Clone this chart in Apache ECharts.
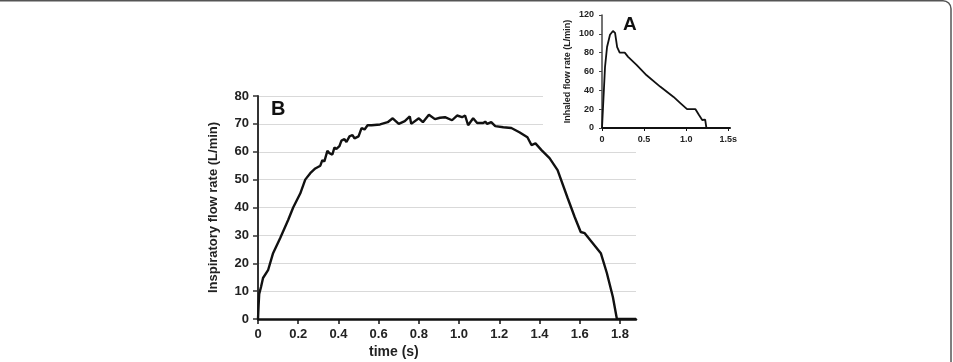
<!DOCTYPE html>
<html>
<head>
<meta charset="utf-8">
<script src="https://cdn.jsdelivr.net/npm/echarts@6/dist/echarts.min.js"></script>
<style>
  html, body { margin: 0; padding: 0; background: #fff; }
  #chart { width: 953px; height: 362px; }
</style>
</head>
<body>
<div id="chart"></div>
<script>
// B: inspiratory flow vs time (main plot)
const mainTime = [0, 0.003, 0.006, 0.015, 0.025, 0.05, 0.075, 0.11, 0.15, 0.175, 0.21, 0.235, 0.26, 0.285, 0.31,
    0.32, 0.33, 0.345, 0.355, 0.37, 0.38, 0.39, 0.405, 0.415, 0.43, 0.44, 0.455, 0.47, 0.48, 0.5, 0.515, 0.53,
    0.545, 0.565, 0.607, 0.645, 0.67, 0.685, 0.70, 0.73, 0.755, 0.762, 0.77, 0.80, 0.82, 0.85, 0.88, 0.905,
    0.93, 0.965, 0.99, 1.015, 1.03, 1.045, 1.07, 1.09, 1.12, 1.13, 1.14, 1.16, 1.18,
    1.22, 1.26, 1.30, 1.34, 1.36, 1.38, 1.41, 1.45, 1.49, 1.54, 1.575, 1.605, 1.625, 1.665, 1.705, 1.735,
    1.765, 1.785, 1.88];
const mainFlow = [0, 5, 9, 11.5, 14.7, 17.5, 23.6, 29, 35.5, 40, 45, 50, 52.3, 54, 55,
    57, 56.5, 60.3, 59.5, 59, 61.5, 61, 62, 64, 64.5, 63.5, 65.5, 66, 64.8, 65.5, 68.5, 68,
    69.5, 69.5, 69.8, 70.6, 72, 71, 70, 71, 72.7, 70, 69.5, 72, 70.6, 73.3, 71.7, 72.2,
    72.4, 71.3, 73, 72.4, 73, 69.5, 72, 70.3, 70.3, 70.8, 70, 70.6, 69.2,
    68.8, 68.5, 67, 65.2, 62.4, 63, 60.6, 57.7, 53.4, 43.4, 36.6, 31.2, 30.8, 27.2, 23.6, 16.5,
    7.9, 0, 0];
const mainXTicks = [0, 0.2, 0.4, 0.6, 0.8, 1.0, 1.2, 1.4, 1.6, 1.8];

// A: inhaled flow rate (inset)
const insetTime = [0, 0.036, 0.06, 0.095, 0.13, 0.155, 0.18, 0.21, 0.27, 0.31, 0.41, 0.53, 0.69, 0.85, 0.93,
    1.01, 1.11, 1.15, 1.19, 1.20, 1.225, 1.24, 1.52];
const insetFlow = [0, 65, 86, 99, 103, 101, 86, 80, 80, 75.6, 67, 56, 44, 33, 26.5,
    20, 20, 14, 8.5, 8.5, 9, 0, 0];
const insetXTicks = [0, 0.5, 1.0, 1.5];

const font = 'Arial, "Liberation Sans", sans-serif';
const ink = '#222';

function pairs(xs, ys) {
    return xs.map((x, i) => [x, ys[i]]);
}

var myChart = echarts.init(document.getElementById('chart'), null, { renderer: 'canvas' });

var option = {
    backgroundColor: '#fff',
    animation: false,
    grid: [
        { left: 258, top: 96, width: 378, height: 223 },
        { left: 602, top: 15, width: 128, height: 113, z: 6 }
    ],
    xAxis: [{
        type: 'value', gridIndex: 0, min: 0, max: 1.88,
        axisLine: { lineStyle: { color: '#111', width: 2.5 } },
        axisTick: { show: true, length: 5, lineStyle: { color: '#111', width: 1.5 }, customValues: mainXTicks },
        axisLabel: {
            customValues: mainXTicks, margin: 9, color: ink, fontFamily: font, fontWeight: 'bold', fontSize: 13,
            formatter: v => v === 0 ? '0' : v.toFixed(1)
        },
        splitLine: { show: false }
    }, {
        type: 'value', gridIndex: 1, min: 0, max: 1.52, z: 6,
        axisLine: { lineStyle: { color: '#111', width: 2 } },
        axisTick: { show: true, length: 3, lineStyle: { color: '#111' }, customValues: insetXTicks },
        axisLabel: {
            customValues: insetXTicks, margin: 7, color: ink, fontFamily: font, fontWeight: 'bold', fontSize: 9,
            formatter: v => v === 0 ? '0' : (v === 1.5 ? '1.5s' : v.toFixed(1))
        },
        splitLine: { show: false }
    }],
    yAxis: [{
        type: 'value', gridIndex: 0, min: 0, max: 80, interval: 10,
        name: 'Inspiratory flow rate (L/min)', nameLocation: 'middle', nameGap: 38,
        nameTextStyle: { color: ink, fontFamily: font, fontWeight: 'bold', fontSize: 13 },
        axisLine: { show: true, lineStyle: { color: '#333', width: 2 } },
        axisTick: { show: true, length: 5, lineStyle: { color: '#333', width: 1.5 } },
        axisLabel: { margin: 9, color: ink, fontFamily: font, fontWeight: 'bold', fontSize: 13 },
        splitLine: { show: true, lineStyle: { color: '#d9d9d9', width: 1 } }
    }, {
        type: 'value', gridIndex: 1, min: 0, max: 120, interval: 20, z: 6,
        name: 'Inhaled flow rate (L/min)', nameLocation: 'middle', nameGap: 30,
        nameTextStyle: { color: ink, fontFamily: font, fontWeight: 'bold', fontSize: 9 },
        axisLine: { show: true, lineStyle: { color: '#444', width: 1.5 } },
        axisTick: { show: true, length: 3, lineStyle: { color: '#444' } },
        axisLabel: { margin: 8, color: ink, fontFamily: font, fontWeight: 'bold', fontSize: 9 },
        splitLine: { show: false }
    }],
    graphic: [
        // cropped rounded frame of the figure
        { type: 'rect', z: 10, silent: true, shape: { x: -20, y: 0.75, width: 971, height: 400, r: 8 },
          style: { fill: null, stroke: '#555', lineWidth: 1.5 } },
        // white backing of the inset
        { type: 'rect', z: 5, silent: true, shape: { x: 543, y: 2, width: 215, height: 143 },
          style: { fill: '#fff' } },
        { type: 'text', z: 8, left: 271, top: 99,
          style: { text: 'B', fontFamily: font, fontWeight: 'bold', fontSize: 20, fill: '#111' } },
        { type: 'text', z: 8, left: 623, top: 15,
          style: { text: 'A', fontFamily: font, fontWeight: 'bold', fontSize: 19, fill: '#111' } },
        { type: 'text', z: 8, left: 369, top: 345,
          style: { text: 'time (s)', fontFamily: font, fontWeight: 'bold', fontSize: 14, fill: ink } }
    ],
    series: [{
        type: 'line', xAxisIndex: 0, yAxisIndex: 0,
        showSymbol: false, symbol: 'none', smooth: false,
        lineStyle: { color: '#111', width: 2.4 },
        data: pairs(mainTime, mainFlow)
    }, {
        type: 'line', xAxisIndex: 1, yAxisIndex: 1, z: 7,
        showSymbol: false, symbol: 'none', smooth: false,
        lineStyle: { color: '#111', width: 1.8 },
        data: pairs(insetTime, insetFlow)
    }]
};

myChart.setOption(option);
</script>
</body>
</html>
